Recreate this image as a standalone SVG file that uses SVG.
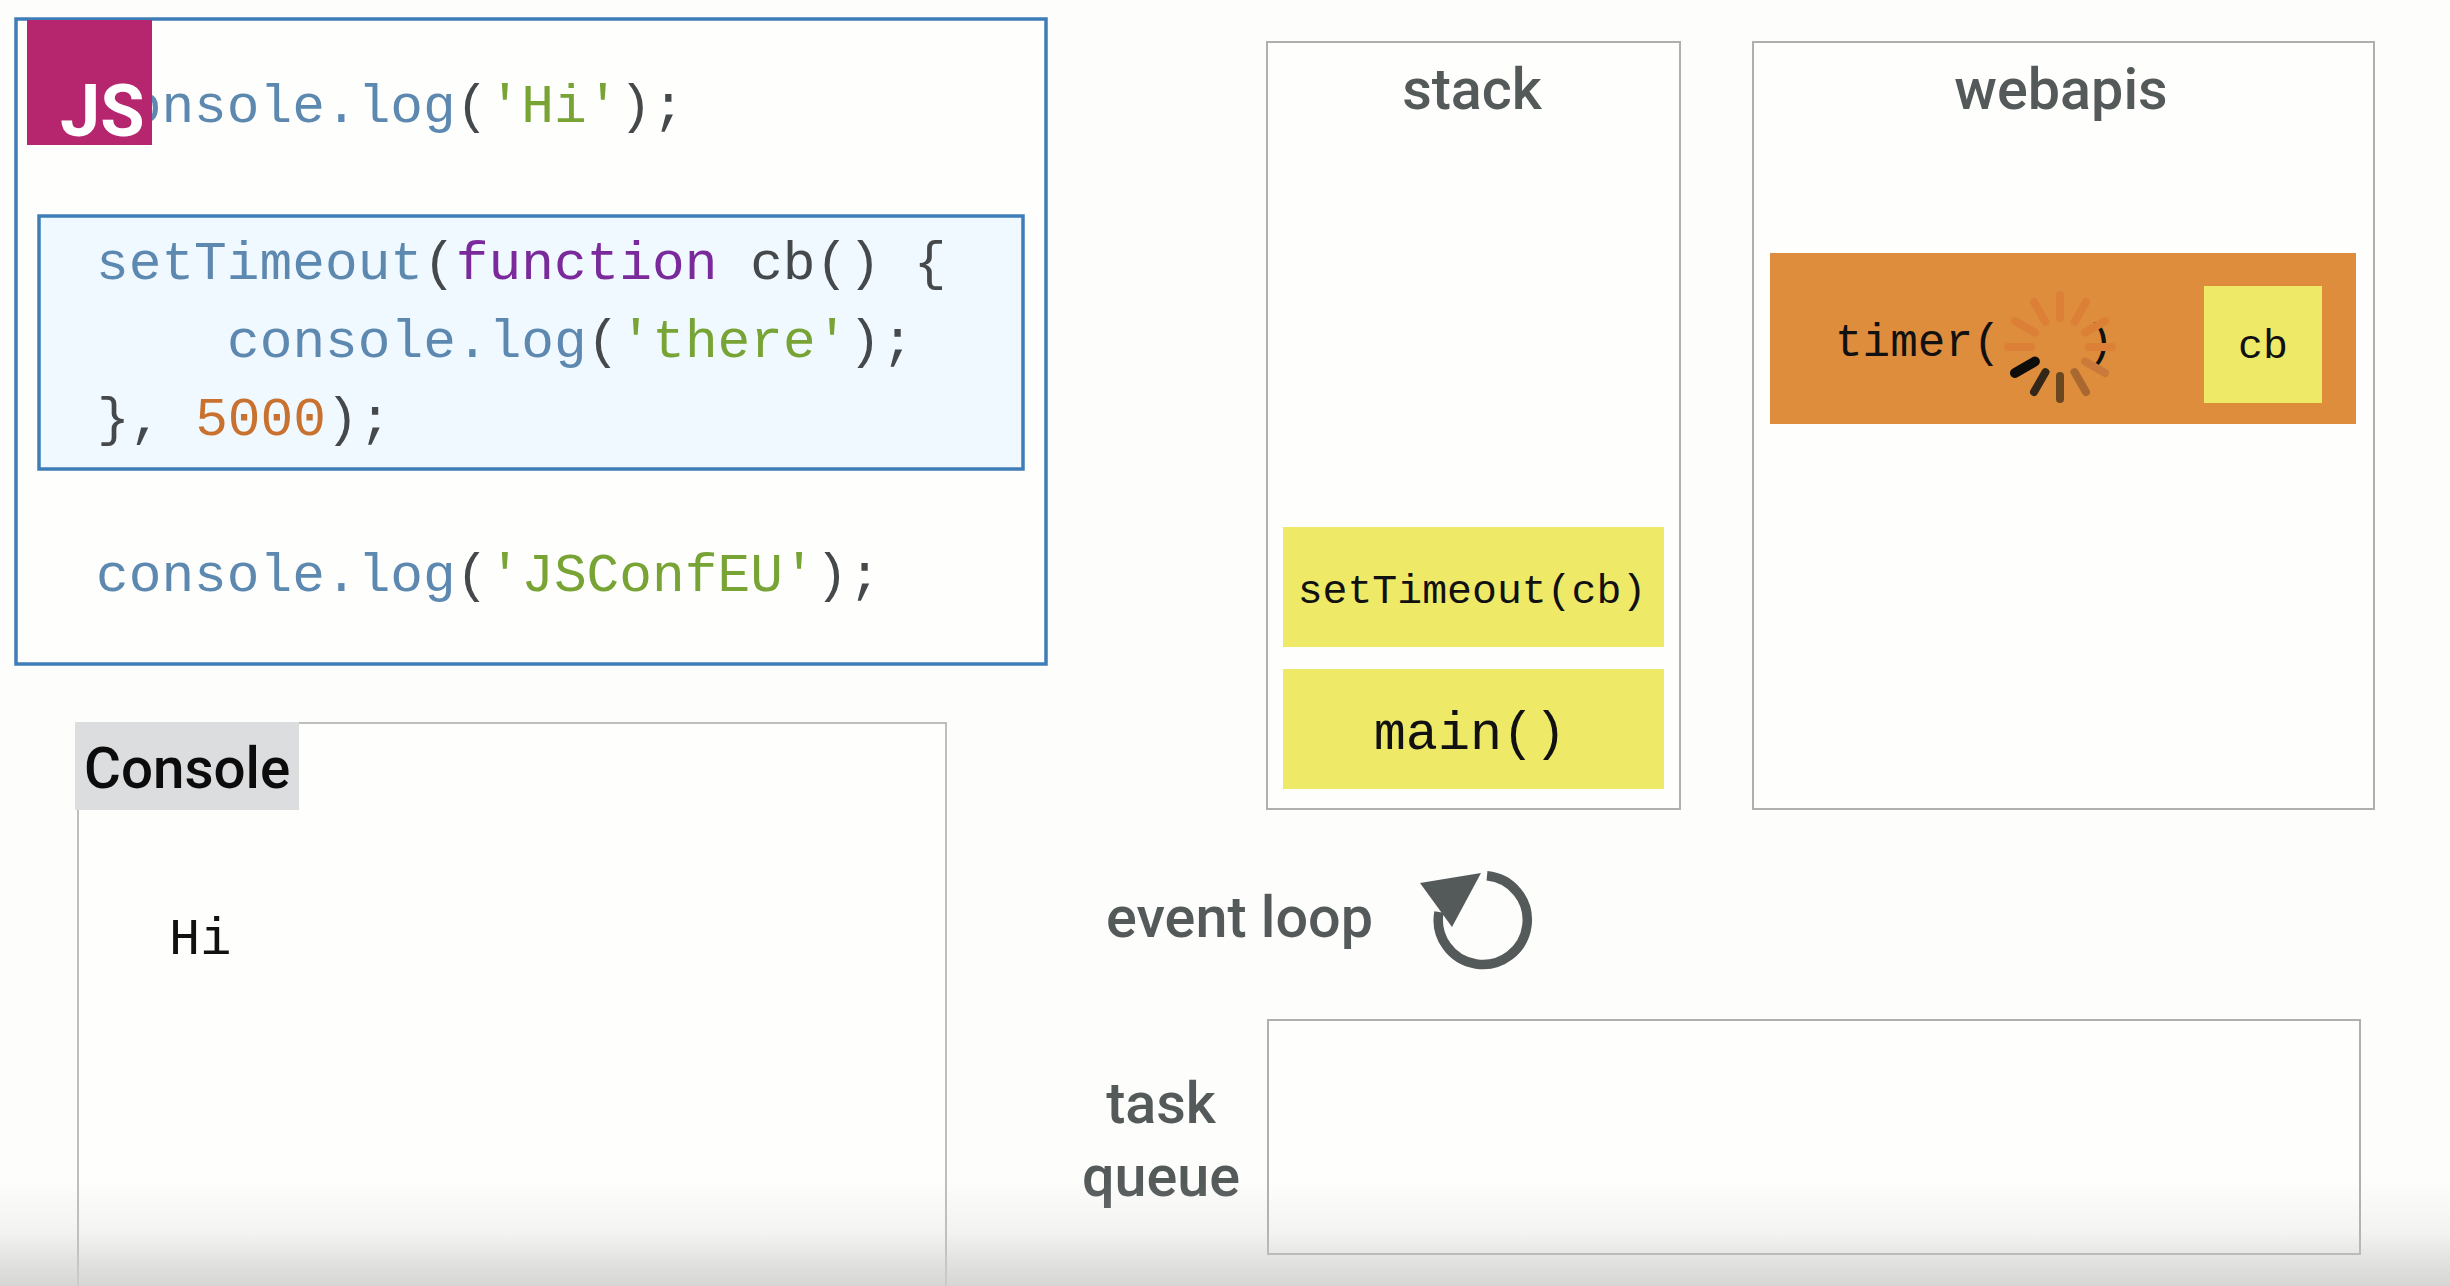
<svg xmlns="http://www.w3.org/2000/svg" width="2450" height="1286" viewBox="0 0 2450 1286">
<style>
.mono{font-family:"Liberation Mono","DejaVu Sans Mono",monospace}
.code{font-size:54.5px;fill:#45494b;stroke:currentColor;stroke-width:0}
.b{fill:#5d89b1}.g{fill:#78a335}.p{fill:#7a2a9b}.o{fill:#c9722f}
.title{font-family:"Roboto","Liberation Sans",sans-serif;font-weight:500;fill:#54595a;font-size:57.5px}
.panel{fill:#fefefc;stroke:#aeb0ae;stroke-width:2}
.blue{stroke:#3f7db8;stroke-width:3.5}
.frame{fill:#eeea67}
.call{fill:#111}
</style>
<defs>
<linearGradient id="shade" x1="0" y1="0" x2="0" y2="1"><stop offset="0" stop-color="#c8c9c7" stop-opacity="0"/><stop offset="0.5" stop-color="#c8c9c7" stop-opacity="0.2"/><stop offset="1" stop-color="#cfd0ce" stop-opacity="0.85"/></linearGradient>
</defs>
<rect width="2450" height="1286" fill="#fdfdfb"/>
<g id="code">
<rect class="blue" x="16" y="19" width="1030" height="645" fill="#fefefd"/>
<text class="mono code" x="96" y="122"><tspan class="b">console.log</tspan>(<tspan class="g">'Hi'</tspan>);</text>
<rect class="blue" x="39" y="216" width="984" height="253" fill="#f0f9ff"/>
<text class="mono code" x="96" y="279"><tspan class="b">setTimeout</tspan>(<tspan class="p">function</tspan> cb() {</text>
<text class="mono code" x="227" y="357"><tspan class="b">console.log</tspan>(<tspan class="g">'there'</tspan>);</text>
<text class="mono code" x="97" y="435">}, <tspan class="o">5000</tspan>);</text>
<text class="mono code" x="96" y="591"><tspan class="b">console.log</tspan>(<tspan class="g">'JSConfEU'</tspan>);</text>
</g>
<g id="js-badge">
<rect x="27" y="20" width="125" height="125" fill="#b5266e"/>
<text x="60" y="136" font-family="Roboto,'Liberation Sans',sans-serif" font-weight="700" font-size="72" fill="#fff">JS</text>
</g>
<g id="console">
<path d="M78 1290V723H946V1290" fill="#fefefc" stroke="#a8aaa8" stroke-width="1.5"/>
<rect x="75" y="722" width="224" height="88" fill="#dcdddf"/>
<text x="84" y="788" font-family="Roboto,'Liberation Sans',sans-serif" font-weight="500" font-size="56.5" fill="#0c0c0c">Console</text>
<text class="mono" x="169" y="954" font-size="52" fill="#111">Hi</text>
</g>
<g id="stack">
<rect class="panel" x="1267" y="42" width="413" height="767"/>
<text class="title" x="1472" y="109" text-anchor="middle">stack</text>
<rect class="frame" x="1283" y="527" width="381" height="120"/>
<text class="mono call" x="1472" y="603" font-size="41.5" text-anchor="middle">setTimeout(cb)</text>
<rect class="frame" x="1283" y="669" width="381" height="120"/>
<text class="mono call" x="1470" y="749" font-size="53.5" text-anchor="middle">main()</text>
</g>
<g id="webapis">
<rect class="panel" x="1753" y="42" width="621" height="767"/>
<text class="title" x="2061" y="109" text-anchor="middle">webapis</text>
<rect x="1770" y="253" width="586" height="171" fill="#de8d3d"/>
<text class="mono call" x="1835" y="356" font-size="46">timer(</text>
<text class="mono call" x="2086" y="356" font-size="46">)</text>
<g id="spinner" stroke-width="8" stroke-linecap="round" transform="translate(2060 347)">
<g stroke="#dc8038">
<line y1="-29" y2="-52"/>
<line y1="-29" y2="-52" transform="rotate(30)"/>
<line y1="-29" y2="-52" transform="rotate(60)"/>
<line y1="-29" y2="-52" transform="rotate(90)"/>
<line y1="-29" y2="-52" transform="rotate(270)"/>
<line y1="-29" y2="-52" transform="rotate(300)"/>
<line y1="-29" y2="-52" transform="rotate(330)"/>
</g>
<line y1="-29" y2="-52" transform="rotate(120)" stroke="#cc7a3a"/>
<line y1="-29" y2="-52" transform="rotate(150)" stroke="#a8682f"/>
<line y1="-29" y2="-52" transform="rotate(180)" stroke="#6b4720"/>
<line y1="-29" y2="-52" transform="rotate(210)" stroke="#33271a"/>
<line y1="-29" y2="-52" transform="rotate(240)" stroke="#0f0d0a" stroke-width="10"/>
</g>
<rect class="frame" x="2204" y="286" width="118" height="117"/>
<text class="mono call" x="2263" y="358" font-size="41.5" text-anchor="middle">cb</text>
</g>
<g id="event-loop">
<text class="title" x="1106" y="937">event loop</text>
<path d="M1487 875.7A44.5 44.5 0 1 1 1439 912" fill="none" stroke="#54595a" stroke-width="9.5"/>
<polygon points="1420,883 1481,873 1452,927" fill="#54595a"/>
</g>
<g id="task-queue">
<text class="title" x="1161" y="1123" text-anchor="middle">task</text>
<text class="title" x="1161" y="1196" text-anchor="middle">queue</text>
<rect class="panel" x="1268" y="1020" width="1092" height="234"/>
</g>
<g id="connectors"/>
<rect id="shade-overlay" x="0" y="1180" width="2450" height="106" fill="url(#shade)"/>
</svg>
